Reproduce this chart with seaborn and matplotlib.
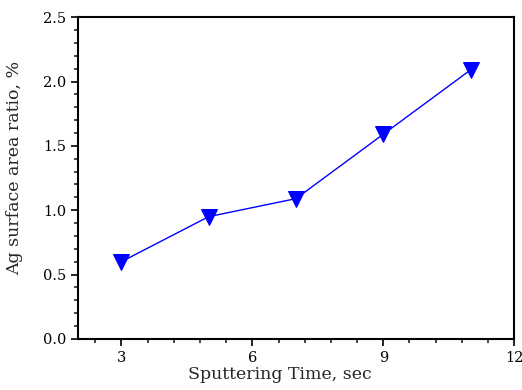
import matplotlib
matplotlib.use("Agg")
import matplotlib.pyplot as plt
from matplotlib.ticker import MultipleLocator
import seaborn as sns
import pandas as pd

# data
sputter_time = [3, 5, 7, 9, 11]
ag_ratio = [0.60, 0.95, 1.09, 1.59, 2.09]

df = pd.DataFrame({"time": sputter_time, "ratio": ag_ratio})

sns.set_style("ticks")
plt.rcParams["font.family"] = ["DejaVu Serif"]

fig = plt.figure(figsize=(5.22, 3.9), dpi=100)
ax = fig.add_axes([0.149, 0.131, 0.836, 0.825])

sns.lineplot(data=df, x="time", y="ratio", ax=ax, color="#0000ff",
             linewidth=1.0, marker="v", markersize=12,
             markeredgecolor="#0000ff", markerfacecolor="#0000ff")

ax.set_xlim(2, 12)
ax.set_ylim(0, 2.5)
ax.xaxis.set_major_locator(MultipleLocator(3))
ax.xaxis.set_minor_locator(MultipleLocator(0.6))
ax.yaxis.set_major_locator(MultipleLocator(0.5))
ax.yaxis.set_minor_locator(MultipleLocator(0.1))
ax.set_yticks([0, 0.5, 1.0, 1.5, 2.0, 2.5])
ax.set_yticklabels(["0.0", "0.5", "1.0", "1.5", "2.0", "2.5"])
ax.set_xticks([3, 6, 9, 12])

for s in ax.spines.values():
    s.set_linewidth(1.5)
    s.set_color("black")
ax.tick_params(which="major", direction="out", length=5, width=1.2,
               labelsize=10.5, colors="black", top=False, right=False)
ax.tick_params(which="minor", direction="out", length=3, width=1.2,
               top=False, right=False)

ax.set_xlabel("Sputtering Time, sec", fontsize=12.5)
ax.set_ylabel("Ag surface area ratio, %", fontsize=12.5)
# labels sit a little off-centre in the reference
ax.xaxis.set_label_coords(0.463, -0.085)
ax.yaxis.set_label_coords(-0.125, 0.531)

fig.savefig("out.png", dpi=100)
